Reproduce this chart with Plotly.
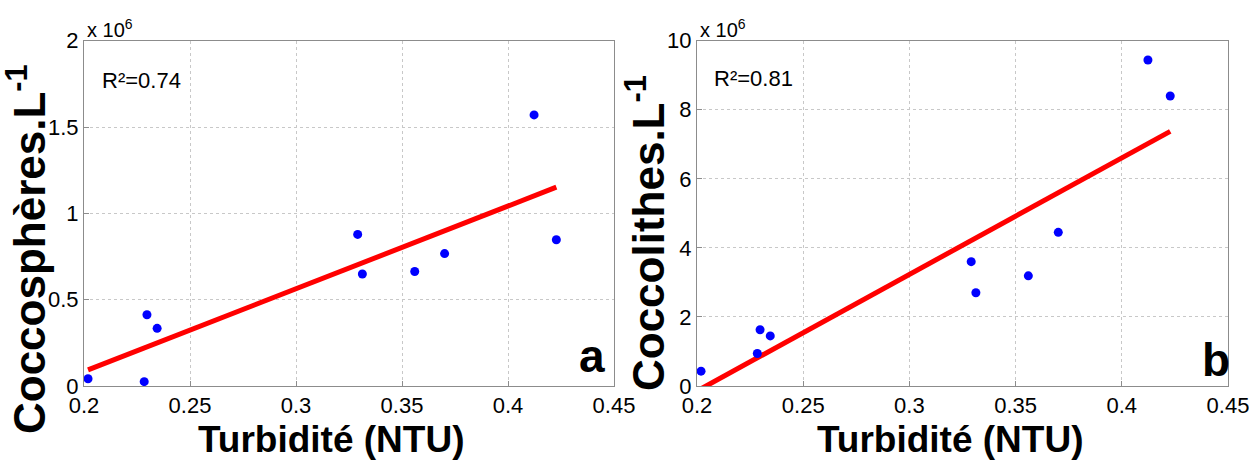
import numpy as np
import plotly.graph_objects as go

# ---- data ----
turbidite = [0.2019, 0.2284, 0.2297, 0.2345, 0.3291, 0.3313, 0.3560, 0.3701, 0.4123, 0.4228]
coccospheres = [0.042e6, 0.025e6, 0.413e6, 0.334e6, 0.878e6, 0.649e6, 0.663e6, 0.767e6, 1.570e6, 0.847e6]
coccolithes = [0.43e6, 0.94e6, 1.63e6, 1.45e6, 3.60e6, 2.70e6, 3.19e6, 4.45e6, 9.44e6, 8.40e6]

x_ticks = [0.2, 0.25, 0.3, 0.35, 0.4, 0.45]
x_ticktext = ["0.2", "0.25", "0.3", "0.35", "0.4", "0.45"]
ya_ticks = [0, 0.5e6, 1e6, 1.5e6, 2e6]
ya_ticktext = ["0", "0.5", "1", "1.5", "2"]
yb_ticks = [0, 2e6, 4e6, 6e6, 8e6, 10e6]
yb_ticktext = ["0", "2", "4", "6", "8", "10"]

r2_a = "R²=0.74"
r2_b = "R²=0.81"

W, H = 1249, 461


def px(x):
    return x / W


def py(y):
    return 1 - y / H


def fit_line(x, y):
    x = np.asarray(x)
    y = np.asarray(y)
    k, b = np.polyfit(x, y, 1)
    xs = np.array([x.min(), x.max()])
    return xs, k * xs + b


fig = go.Figure()

for xa, ya, yv in (("x", "y", coccospheres), ("x2", "y2", coccolithes)):
    lx, ly = fit_line(turbidite, yv)
    fig.add_trace(go.Scatter(x=lx, y=ly, mode="lines", xaxis=xa, yaxis=ya,
                             line=dict(color="#ff0000", width=5), showlegend=False))
    fig.add_trace(go.Scatter(x=turbidite, y=yv, mode="markers", xaxis=xa, yaxis=ya,
                             marker=dict(color="#0000ff", size=9), showlegend=False,
                             cliponaxis=False))

tick_font = dict(family="Liberation Sans, Arial", size=22, color="black")
common_x = dict(range=[0.2, 0.45], tickvals=x_ticks, ticktext=x_ticktext,
                showgrid=True, gridcolor="#c8c8c8", griddash="dot", gridwidth=1,
                showline=True, linecolor="#8c8c8c", linewidth=1, mirror=True,
                ticks="inside", ticklen=5, tickcolor="#8c8c8c", automargin=False,
                ticklabeloverflow="allow",
                zeroline=False, tickfont=tick_font, fixedrange=True)
common_y = dict(showgrid=True, gridcolor="#c8c8c8", griddash="dot", gridwidth=1,
                showline=True, linecolor="#8c8c8c", linewidth=1, mirror=True,
                ticks="inside", ticklen=5, tickcolor="#8c8c8c", automargin=False,
                ticklabeloverflow="allow",
                zeroline=False, tickfont=tick_font, fixedrange=True)

ydom = [py(386), py(40.7)]
fig.update_layout(
    width=W, height=H,
    margin=dict(l=0, r=0, t=0, b=0, pad=0),
    paper_bgcolor="white", plot_bgcolor="white",
    xaxis=dict(domain=[px(84), px(614)], anchor="y", **common_x),
    xaxis2=dict(domain=[px(697), px(1228)], anchor="y2", **common_x),
    yaxis=dict(domain=ydom, anchor="x", range=[0, 2e6], tickvals=ya_ticks,
               ticktext=ya_ticktext, **common_y),
    yaxis2=dict(domain=ydom, anchor="x2", range=[0, 10e6], tickvals=yb_ticks,
                ticktext=yb_ticktext, **common_y),
)

title_font = dict(family="Liberation Sans, Arial", size=37, color="black")
ytitle_font = dict(family="Liberation Sans, Arial", size=44, color="black")
small_font = dict(family="Liberation Sans, Arial", size=22, color="black")
exp_font = dict(family="Liberation Sans, Arial", size=20, color="black")
letter_font = dict(family="Liberation Sans, Arial", size=46, color="black")

ann = []
# x titles
for cx in (331, 950):
    ann.append(dict(x=px(cx), y=py(439), xref="paper", yref="paper", text="<b>Turbidité (NTU)</b>",
                    showarrow=False, font=title_font, xanchor="center", yanchor="middle"))
# y titles
ann.append(dict(x=px(27), y=py(249), xref="paper", yref="paper", text="<b>Coccosphères.L<sup>-1</sup></b>",
                showarrow=False, font=ytitle_font, textangle=-90, xanchor="center", yanchor="middle"))
ann.append(dict(x=px(645), y=py(233), xref="paper", yref="paper", text="<b>Coccolithes.L<sup>-1</sup></b>",
                showarrow=False, font=ytitle_font, textangle=-90, xanchor="center", yanchor="middle"))
# exponent labels
for ex in (85, 698):
    ann.append(dict(x=px(ex), y=py(28), xref="paper", yref="paper", text="x 10<sup>6</sup>",
                    showarrow=False, font=exp_font, xanchor="left", yanchor="middle"))
# R² labels
ann.append(dict(x=px(100), y=py(80), xref="paper", yref="paper", text=r2_a,
                showarrow=False, font=small_font, xanchor="left", yanchor="middle"))
ann.append(dict(x=px(712), y=py(78), xref="paper", yref="paper", text=r2_b,
                showarrow=False, font=small_font, xanchor="left", yanchor="middle"))
# panel letters
ann.append(dict(x=px(592), y=py(356), xref="paper", yref="paper", text="<b>a</b>",
                showarrow=False, font=letter_font, xanchor="center", yanchor="middle"))
ann.append(dict(x=px(1216), y=py(360), xref="paper", yref="paper", text="<b>b</b>",
                showarrow=False, font=letter_font, xanchor="center", yanchor="middle"))

fig.update_layout(annotations=ann)
fig.write_html("out.html", config={"displayModeBar": False},
               post_script="document.body.style.margin='0';document.body.style.overflow='hidden';")
